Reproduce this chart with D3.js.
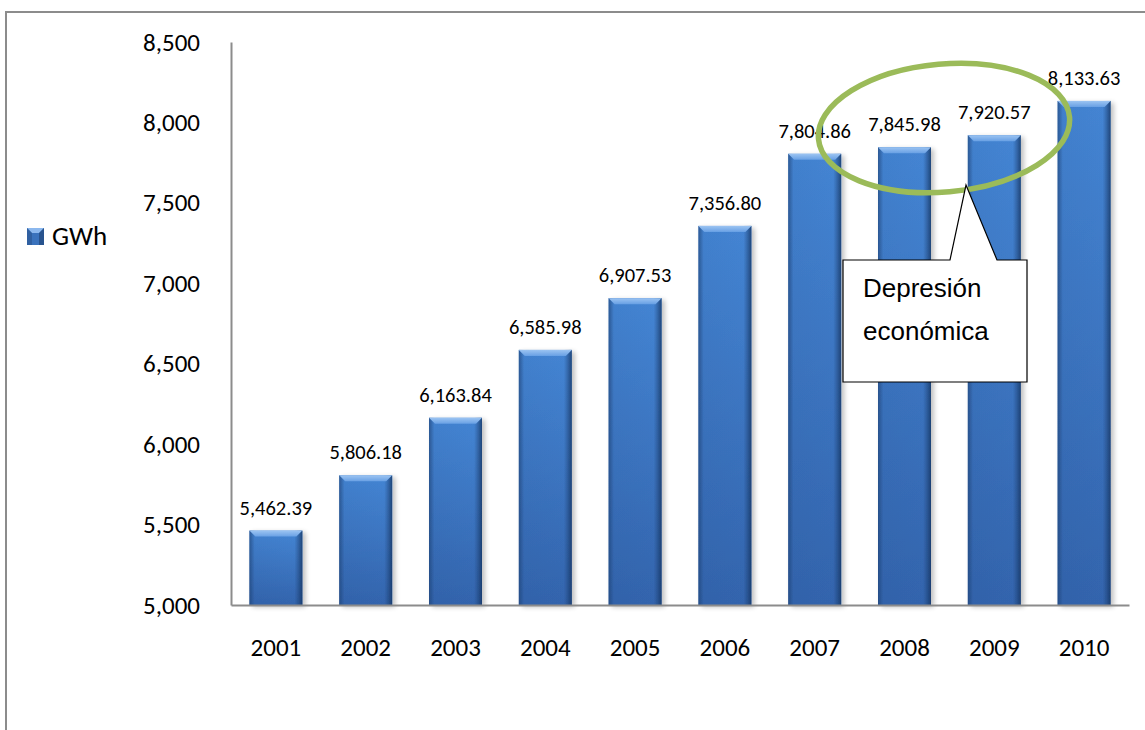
<!DOCTYPE html>
<html>
<head>
<meta charset="utf-8">
<script src="https://cdn.jsdelivr.net/npm/d3@7"></script>
<style>
  html, body { margin: 0; padding: 0; background: #fff; }
  svg { display: block; }
</style>
</head>
<body>
<svg id="chart" width="1145" height="730"></svg>
<script>
// Annual electricity consumption (GWh)
const years = ["2001","2002","2003","2004","2005","2006","2007","2008","2009","2010"];
const gwh = [5462.39, 5806.18, 6163.84, 6585.98, 6907.53, 7356.80, 7804.86, 7845.98, 7920.57, 8133.63];
const yTicks = [5000, 5500, 6000, 6500, 7000, 7500, 8000, 8500];
const seriesName = "GWh";
const noteLines = ["Depresión", "económica"];

const W = 1145, H = 730;
const margin = { left: 231, right: 16, top: 42, bottom: 125 };
const svg = d3.select("#chart");
const font = "Carlito, Calibri, Lato, 'Open Sans', sans-serif";

const x = d3.scaleBand().domain(years).range([margin.left, W - margin.right]).paddingInner(0.41).paddingOuter(0.205);
const y = d3.scaleLinear().domain([5000, 8500]).range([H - margin.bottom, margin.top]);

const defs = svg.append("defs");
// body: lighter at the top, deeper toward the base
const body = defs.append("linearGradient").attr("id", "barBody").attr("x1", 0).attr("x2", 0).attr("y1", 0).attr("y2", 1);
body.append("stop").attr("offset", "0%").attr("stop-color", "#4688d8");
body.append("stop").attr("offset", "100%").attr("stop-color", "#3466b0");
// darkened vertical edges
const side = defs.append("linearGradient").attr("id", "barSide").attr("x1", 0).attr("x2", 1).attr("y1", 0).attr("y2", 0);
side.append("stop").attr("offset", "0%").attr("stop-color", "#1d3f70").attr("stop-opacity", 0.65);
side.append("stop").attr("offset", "10%").attr("stop-color", "#1d3f70").attr("stop-opacity", 0.1);
side.append("stop").attr("offset", "85%").attr("stop-color", "#1d3f70").attr("stop-opacity", 0.05);
side.append("stop").attr("offset", "100%").attr("stop-color", "#13305a").attr("stop-opacity", 0.75);
const bevel = defs.append("linearGradient").attr("id", "barTop").attr("x1", 0).attr("x2", 0).attr("y1", 0).attr("y2", 1);
bevel.append("stop").attr("offset", "0%").attr("stop-color", "#9cc4f2");
bevel.append("stop").attr("offset", "100%").attr("stop-color", "#68a0e4");
const shadow = defs.append("filter").attr("id", "shadow").attr("x", "-20%").attr("y", "-10%").attr("width", "150%").attr("height", "130%");
shadow.append("feGaussianBlur").attr("in", "SourceAlpha").attr("stdDeviation", 2.5);
shadow.append("feOffset").attr("dx", 3).attr("dy", 2).attr("result", "b");
shadow.append("feComponentTransfer").append("feFuncA").attr("type", "linear").attr("slope", 0.25);
const merge = shadow.append("feMerge");
merge.append("feMergeNode");
merge.append("feMergeNode").attr("in", "SourceGraphic");

// outer frame (top and left edges)
svg.append("path").attr("d", `M6,${H} L6,12 L${W},12`).attr("fill", "none").attr("stroke", "#8c8c8c").attr("stroke-width", 2);

// y axis
const yAxis = svg.append("g").attr("transform", `translate(${margin.left},0)`)
  .call(d3.axisLeft(y).tickValues(yTicks).tickFormat(d3.format(",")).tickSize(0).tickPadding(31));
yAxis.select(".domain").attr("stroke", "#8c8c8c").attr("stroke-width", 2);
yAxis.selectAll("text").attr("font-family", font).attr("font-size", 25).attr("fill", "#000");

// bars
const bars = svg.append("g").selectAll("g").data(years).join("g").attr("filter", "url(#shadow)");
bars.each(function(d, i) {
  const g = d3.select(this);
  const x0 = x(d), bw = x.bandwidth();
  const y0 = y(gwh[i]), y1 = y(5000);
  const b = 6;
  g.append("rect").attr("x", x0).attr("y", y0).attr("width", bw).attr("height", y1 - y0).attr("fill", "url(#barBody)");
  g.append("rect").attr("x", x0).attr("y", y0).attr("width", bw).attr("height", y1 - y0).attr("fill", "url(#barSide)");
  g.append("path")
    .attr("d", `M${x0},${y0} L${x0 + bw},${y0} L${x0 + bw - b},${y0 + b} L${x0 + b},${y0 + b} Z`)
    .attr("fill", "url(#barTop)");
});

// x axis
const xAxis = svg.append("g").attr("transform", `translate(0,${y(5000)})`)
  .call(d3.axisBottom(x).tickSize(0).tickPadding(33));
xAxis.select(".domain").attr("stroke", "#8c8c8c").attr("stroke-width", 2);
xAxis.selectAll("text").attr("font-family", font).attr("font-size", 25).attr("fill", "#000");

// value labels
svg.append("g").selectAll("text").data(years).join("text")
  .attr("x", d => x(d) + x.bandwidth() / 2)
  .attr("y", (d, i) => y(gwh[i]) - 16)
  .attr("text-anchor", "middle")
  .attr("font-family", font).attr("font-size", 20.5).attr("fill", "#000")
  .text((d, i) => d3.format(",.2f")(gwh[i]));

// legend
const lg = svg.append("g").attr("transform", "translate(27,228)");
lg.append("rect").attr("width", 17).attr("height", 17).attr("fill", "#3a72bc");
lg.append("path").attr("d", "M0,0 L17,0 L12,5 L5,5 Z").attr("fill", "#8cb8ee");
lg.append("path").attr("d", "M0,0 L5,5 L5,17 L0,17 Z").attr("fill", "#2a5590").attr("opacity", 0.6);
lg.append("path").attr("d", "M17,0 L12,5 L12,17 L17,17 Z").attr("fill", "#1d3f70").attr("opacity", 0.6);
lg.append("text").attr("x", 25).attr("y", 17).attr("font-family", font).attr("font-size", 27).attr("fill", "#000").text(seriesName);

// highlight ellipse around the 2008-2009 values
svg.append("ellipse")
  .attr("cx", 944).attr("cy", 128).attr("rx", 126).attr("ry", 64)
  .attr("transform", "rotate(-5,944,128)")
  .attr("fill", "none").attr("stroke", "#9bbb59").attr("stroke-width", 5.5);

// callout
const callout = svg.append("g");
callout.append("path")
  .attr("d", "M843,260 L950,260 L966,185 L997,260 L1027,260 L1027,382 L843,382 Z")
  .attr("fill", "#fff").attr("stroke", "#000").attr("stroke-width", 1.2);
callout.selectAll("text").data(noteLines).join("text")
  .attr("x", 863).attr("y", (d, i) => 297 + i * 43)
  .attr("font-family", "'Liberation Sans', Arial, sans-serif").attr("font-size", 26).attr("fill", "#000")
  .text(d => d);
</script>
</body>
</html>
